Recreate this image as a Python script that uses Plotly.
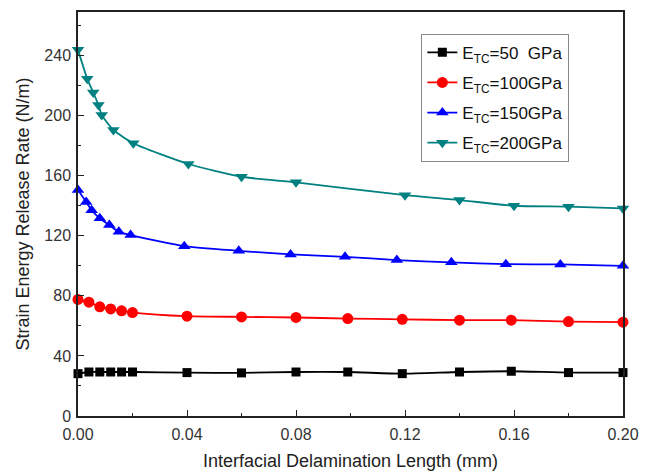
import plotly.graph_objects as go

# Data
x50 = [0.0, 0.004, 0.008, 0.012, 0.016, 0.020, 0.040, 0.060, 0.080, 0.099, 0.119, 0.140, 0.159, 0.180, 0.200]
y50 = [28.2, 29.3, 29.3, 29.3, 29.3, 29.3, 28.9, 28.7, 29.3, 29.3, 28.2, 29.3, 29.8, 28.9, 28.9]

x100 = [0.0, 0.004, 0.008, 0.012, 0.016, 0.020, 0.040, 0.060, 0.080, 0.099, 0.119, 0.140, 0.159, 0.180, 0.200]
y100 = [77.6, 75.8, 72.7, 71.3, 70.0, 68.9, 66.5, 66.0, 65.6, 64.9, 64.4, 63.8, 63.8, 62.9, 62.5]

x150 = [0.0, 0.003, 0.005, 0.008, 0.0115, 0.015, 0.0193, 0.039, 0.059, 0.078, 0.098, 0.117, 0.137, 0.157, 0.177, 0.200]
y150 = [150.5, 142.5, 137.0, 131.6, 127.1, 122.7, 120.5, 113.1, 110.0, 107.6, 106.0, 103.8, 102.3, 101.1, 100.9, 100.0]

x200 = [0.0, 0.0034, 0.0056, 0.0075, 0.0087, 0.013, 0.0203, 0.0405, 0.060, 0.080, 0.120, 0.140, 0.160, 0.180, 0.200]
y200 = [243.8, 224.5, 215.4, 207.1, 200.5, 190.5, 181.6, 167.8, 159.3, 155.6, 147.0, 143.8, 140.0, 139.4, 138.2]

names = ["E<sub>TC</sub>=50\u00a0\u00a0GPa", "E<sub>TC</sub>=100GPa", "E<sub>TC</sub>=150GPa", "E<sub>TC</sub>=200GPa"]
colors = ["#000000", "#FF0000", "#0000FF", "#008080"]
symbols = ["square", "circle", "triangle-up", "triangle-down"]
xs = [x50, x100, x150, x200]
ys = [y50, y100, y150, y200]

fig = go.Figure()
for i, (xv, yv, n, c, s) in enumerate(zip(xs, ys, names, colors, symbols)):
    fig.add_trace(go.Scatter(
        x=xv, y=yv, name=n, mode="lines+markers", legendgroup=f"g{i}",
        line=dict(color=c, width=1.8, shape="spline", smoothing=0.6),
        marker=dict(color=c, symbol=s, size=11 if s != "square" else 9),
        cliponaxis=False,
    ))

tick_font = dict(family="Liberation Sans, Arial, sans-serif", size=16, color="#333333")
title_font = dict(family="Liberation Sans, Arial, sans-serif", size=18, color="#222222")
fig.update_layout(
    width=651, height=471,
    margin=dict(l=78, r=28, t=12, b=55),
    plot_bgcolor="white", paper_bgcolor="white",
    font=dict(family="Liberation Sans, Arial, sans-serif", color="#222222"),
    showlegend=True,
    legend=dict(
        x=0.63, y=0.946, xanchor="left", yanchor="top",
        bordercolor="#888888", borderwidth=1, bgcolor="white",
        font=dict(size=17, color="#111111"),
        tracegroupgap=5, itemwidth=30,
    ),
    xaxis=dict(
        range=[0, 0.2], tickvals=[0, 0.04, 0.08, 0.12, 0.16, 0.20],
        ticktext=["0.00", "0.04", "0.08", "0.12", "0.16", "0.20"],
        ticks="inside", ticklen=6, tickwidth=1.2, tickcolor="#222222",
        minor=dict(dtick=0.02, tick0=0, ticks="inside", ticklen=3, tickcolor="#222222"),
        showline=True, linecolor="#222222", linewidth=1.5, mirror=True,
        showgrid=False, zeroline=False, tickfont=tick_font, ticklabelstandoff=3,
        automargin=False,
        title=dict(text="Interfacial Delamination Length (mm)", font=title_font, standoff=13),
    ),
    yaxis=dict(
        range=[0, 269], tickvals=[0, 40, 80, 120, 160, 200, 240],
        ticks="inside", ticklen=6, tickwidth=1.2, tickcolor="#222222",
        minor=dict(dtick=20, tick0=0, ticks="inside", ticklen=3, tickcolor="#222222"),
        showline=True, linecolor="#222222", linewidth=1.5, mirror=True,
        showgrid=False, zeroline=False, tickfont=tick_font, ticklabelstandoff=2,
        automargin=False,
        title=dict(text="Strain Energy Release Rate (N/m)", font=title_font, standoff=10),
    ),
)

fig.write_html("out.html")
